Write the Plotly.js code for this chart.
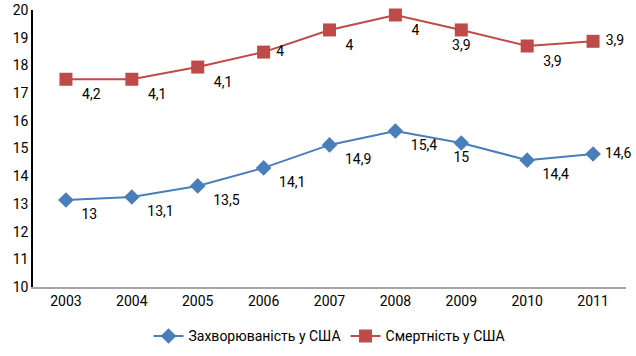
<!DOCTYPE html>
<html><head><meta charset="utf-8">
<script src="https://cdn.plot.ly/plotly-3.0.1.min.js"></script>
<style>body{margin:0;background:#fff}#c{width:636px;height:356px}</style>
</head><body><div id="c"></div>
<script>
const years = ['2003','2004','2005','2006','2007','2008','2009','2010','2011'];
const incidence = [13.14, 13.25, 13.65, 14.3, 15.13, 15.63, 15.2, 14.58, 14.8];
const incidenceLabels = ['13','13,1','13,5','14,1','14,9','15,4','15','14,4','14,6'];
const mortality = [17.5, 17.5, 17.94, 18.48, 19.28, 19.82, 19.28, 18.7, 18.87];
const mortalityLabels = ['4,2','4,1','4,1','4','4','4','3,9','3,9','3,9'];
const yTicks = [10,11,12,13,14,15,16,17,18,19,20];

const F = 'Roboto, sans-serif';
const BR = '  %{text}', MR = ' %{text}', BC = '%{text}';
const traces = [
 {x: years, y: incidence, text: incidenceLabels, name: 'Захворюваність у США', mode:'lines+markers+text',
  cliponaxis:false,
  texttemplate:[BR,BR,BR,BR,BR,BR,BC,BR,MR],
  line:{color:'#4a7ebb', width:2}, marker:{symbol:'diamond', size:12, color:'#4a7ebb'},
  textposition:['bottom right','bottom right','bottom right','bottom right','bottom right','bottom right','bottom center','bottom right','middle right'],
  textfont:{family:F, size:14, color:'#000'}},
 {x: years, y: mortality, text: mortalityLabels, name: 'Смертність у США', mode:'lines+markers+text',
  cliponaxis:false,
  texttemplate:[BR,BR,BR,MR,BR,BR,BC,BR,MR],
  line:{color:'#be4b48', width:2}, marker:{symbol:'square', size:13, color:'#be4b48'},
  textposition:['bottom right','bottom right','bottom right','middle right','bottom right','bottom right','bottom center','bottom right','middle right'],
  textfont:{family:F, size:14, color:'#000'}}
];
const layout = {
 width:636, height:356, margin:{l:33, r:10, t:10, b:69},
 paper_bgcolor:'#fff', plot_bgcolor:'#fff',
 font:{family:F, size:14, color:'#000'},
 showlegend:true,
 legend:{orientation:'h', x:0.5, xanchor:'center', yref:'container', y:0.055, yanchor:'middle', font:{family:F, size:14}},
 xaxis:{type:'category', range:[-0.5,8.5], showgrid:false, zeroline:false, showline:true, linecolor:'#a6a6a6', linewidth:2, ticks:'', tickfont:{family:F,size:14}, automargin:false},
 yaxis:{range:[10,20], tickvals:yTicks, showgrid:false, zeroline:false, showline:true, linecolor:'#000', linewidth:1.5, ticks:'', tickfont:{family:F,size:14}, automargin:false}
};
Plotly.newPlot('c', traces, layout, {displayModeBar:false});
</script></body></html>
